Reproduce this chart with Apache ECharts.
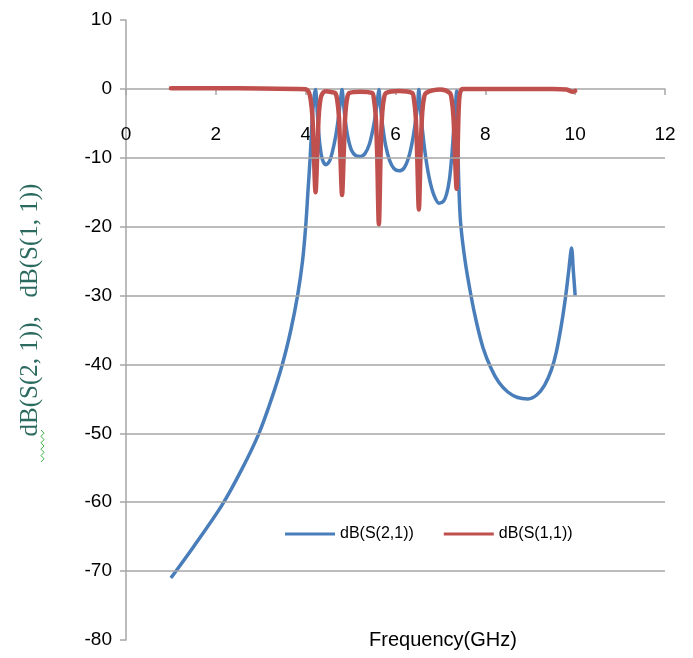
<!DOCTYPE html>
<html>
<head>
<meta charset="utf-8">
<script src="https://cdn.jsdelivr.net/npm/echarts@6/dist/echarts.min.js"></script>
<style>html,body{margin:0;padding:0;background:#fff}#c{width:693px;height:658px}</style>
</head>
<body>
<div id="c"></div>
<script>
// ---- data ----
const s21Freq = [1.00,1.50,2.13,2.58,2.96,3.24,3.48,3.67,3.82,3.93,4.00,4.05,4.10,4.15,4.19,4.22,
  4.25,4.28,4.32,4.37,4.45,4.53,4.60,4.67,4.73,4.77,4.81,
  4.84,4.88,4.94,5.02,5.12,5.22,5.32,5.42,5.50,5.56,5.60,5.63,
  5.66,5.71,5.78,5.87,5.97,6.08,6.19,6.29,6.37,6.44,6.49,6.52,
  6.55,6.60,6.67,6.76,6.86,6.97,7.07,7.14,7.20,7.25,7.29,7.33,7.36,
  7.38,7.41,7.45,7.55,7.68,7.80,7.95,8.13,8.30,8.50,8.72,8.95,9.15,9.32,9.47,9.58,9.70,9.79,9.86,9.92,9.96,10.00];
const s21dB = [-71.0,-66.5,-60.5,-55.2,-50.0,-45.0,-40.0,-35.0,-30.0,-25.0,-20.0,-15.0,-10.0,-4.0,-1.0,-0.1,
  -2.5,-5.5,-8.3,-10.2,-11.0,-10.5,-9.0,-6.8,-4.2,-2.0,-0.1,
  -2.0,-4.5,-7.0,-8.9,-9.7,-9.8,-9.4,-8.0,-5.8,-3.5,-1.5,-0.1,
  -2.2,-5.2,-8.2,-10.4,-11.6,-11.9,-11.5,-10.0,-7.8,-5.0,-2.4,-0.1,
  -2.5,-6.0,-9.8,-13.2,-15.5,-16.6,-16.3,-15.2,-13.2,-10.0,-6.5,-3.0,-0.3,
  -6.0,-14.0,-19.5,-25.0,-30.0,-33.8,-37.6,-40.6,-42.6,-44.0,-44.8,-45.0,-44.4,-43.0,-40.8,-38.2,-34.0,-30.0,-26.2,-23.1,-26.5,-30.0];

const s11Freq = [1.00,2.00,3.00,3.80,4.00,4.07,4.11,4.15,4.18,4.22,4.26,4.29,4.33,4.38,4.45,4.60,
  4.66,4.70,4.74,4.77,4.81,4.85,4.88,4.92,4.97,5.22,
  5.48,5.52,5.56,5.59,5.63,5.67,5.70,5.74,5.79,6.08,
  6.37,6.41,6.45,6.48,6.52,6.56,6.59,6.63,6.68,7.00,
  7.21,7.25,7.29,7.32,7.36,7.39,7.41,7.44,7.50,8.50,9.50,9.80,9.95,10.00];
const s11dB = [0.1,0.1,0.05,0,-0.05,-0.5,-1.5,-4,-9,-15,-9,-4,-1.5,-0.6,-0.35,-0.5,
  -0.6,-1.5,-4,-9,-15.4,-9,-4,-1.5,-0.6,-0.4,
  -0.6,-1.5,-4,-9,-19.7,-9,-4,-1.5,-0.6,-0.3,
  -0.6,-1.5,-4,-9,-17.5,-9,-4,-1.5,-0.6,-0.1,
  -0.6,-1.5,-4,-9,-14.5,-7,-2.5,-0.5,0,0,0,-0.1,-0.4,-0.3];

const seriesNames = ['dB(S(2,1))', 'dB(S(1,1))'];
const xTicks = {min: 0, max: 12, step: 2};
const yTicks = {min: -80, max: 10, step: 10};
const gridValues = [-10,-20,-30,-40,-50,-60,-70];
const xTitle = 'Frequency(GHz)';
const yTitle = 'dB(S(2, 1)),   dB(S(1, 1))';

const zip = (xs, ys) => xs.map((x, i) => [x, ys[i]]);

const G = {left: 126, right: 28, top: 20, bottom: 18};
const plotH = 658 - G.top - G.bottom;
// distance from the bottom of the plot up to the value 0 line
const zeroOffset = plotH * (0 - yTicks.min) / (yTicks.max - yTicks.min);

const chart = echarts.init(document.getElementById('c'), null, {renderer: 'canvas'});
const axisGray = '#a6a6a6';

const sq = [];
for (let i = 0; i <= 10; i++) sq.push([41 + (i % 2 ? 3 : 0), 462 - i * 3.2]);

chart.setOption({
  animation: false,
  backgroundColor: '#fff',
  grid: Object.assign({containLabel: false, outerBoundsMode: 'none'}, G),
  legend: {
    data: seriesNames, left: 280, top: 521, icon: 'rect', itemWidth: 50, itemHeight: 3,
    itemGap: 30, textStyle: {fontSize: 16, color: '#000', fontFamily: 'Liberation Sans'}
  },
  xAxis: {
    type: 'value', min: xTicks.min, max: xTicks.max, interval: xTicks.step,
    offset: -zeroOffset,
    axisLine: {onZero: false, lineStyle: {color: axisGray, width: 1.5}},
    axisTick: {show: true, length: 6, lineStyle: {color: axisGray, width: 1.5}},
    axisLabel: {margin: 36, fontSize: 19, color: '#000', fontFamily: 'Liberation Sans'},
    splitLine: {show: false}
  },
  yAxis: {
    type: 'value', min: yTicks.min, max: yTicks.max, interval: yTicks.step,
    axisLine: {show: true, onZero: false, lineStyle: {color: axisGray, width: 1.5}},
    axisTick: {show: true, length: 6, lineStyle: {color: axisGray, width: 1.5}},
    axisLabel: {margin: 14, fontSize: 19, color: '#000', fontFamily: 'Liberation Sans'},
    splitLine: {show: false}
  },
  graphic: [
    {type: 'text', x: 443, y: 640, style: {text: xTitle, font: '20px "Liberation Sans"', fill: '#000', textAlign: 'center', textVerticalAlign: 'middle'}},
    {type: 'text', x: 30, y: 310, rotation: Math.PI / 2, style: {text: yTitle, font: '25px "Liberation Serif"', fill: '#2B6A5E', textAlign: 'center', textVerticalAlign: 'middle'}},
    {type: 'polyline', shape: {points: sq}, style: {stroke: '#3cb043', lineWidth: 1, fill: null}}
  ],
  series: [
    {
      name: seriesNames[0], type: 'line', data: zip(s21Freq, s21dB), showSymbol: false, smooth: 0.3,
      lineStyle: {color: '#4a7ebb', width: 3.5}, itemStyle: {color: '#4a7ebb'}, z: 2,
      markLine: {silent: true, symbol: 'none', label: {show: false},
        lineStyle: {color: axisGray, width: 1.5, type: 'solid'},
        data: gridValues.map(v => ({yAxis: v}))}
    },
    {
      name: seriesNames[1], type: 'line', data: zip(s11Freq, s11dB), showSymbol: false, smooth: 0.3,
      lineStyle: {color: '#c0504d', width: 4.5, cap: 'round', join: 'round'}, itemStyle: {color: '#c0504d'}, z: 3
    }
  ]
});
</script>
</body>
</html>
